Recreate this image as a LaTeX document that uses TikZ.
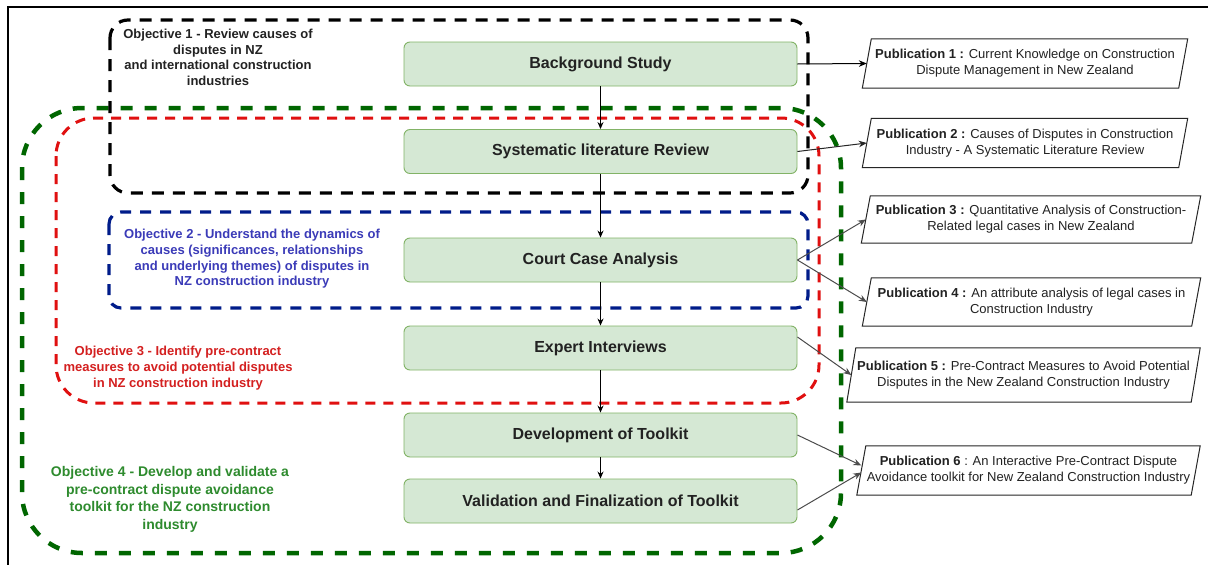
\documentclass[tikz,border=0pt]{standalone}
\usepackage{fontspec}
\setmainfont{Liberation Sans}
\usetikzlibrary{arrows.meta}
\definecolor{boxfill}{HTML}{D5E8D4}
\definecolor{boxline}{HTML}{82B366}
\definecolor{objgreen}{HTML}{006600}
\definecolor{objred}{HTML}{E01010}
\definecolor{objblue}{HTML}{001C8A}
\definecolor{txtblue}{HTML}{3B3BB8}
\definecolor{txtred}{HTML}{D42020}
\definecolor{txtgreen}{HTML}{2E8B2E}
\definecolor{txtdark}{HTML}{222222}
\begin{document}
\begin{tikzpicture}[x=1pt,y=-1pt,
  stepbox/.style={draw=boxline, fill=boxfill, rounded corners=6pt, minimum width=393pt, minimum height=44pt, line width=0.9pt, font=\fontsize{16}{19}\bfseries\selectfont, text=txtdark, inner sep=0pt},
  pubnode/.style={minimum height=49pt, inner sep=0pt, align=center, font=\fontsize{13}{16}\selectfont, text=txtdark},
  objtext/.style={align=center, font=\fontsize{13}{15.7}\bfseries\selectfont, inner sep=0pt},
  flow/.style={-{Stealth[length=7pt,width=6pt]}, line width=0.9pt, draw=black},
  link/.style={-{Stealth[length=8pt,width=6.5pt]}, line width=1pt, draw=black!70},
]
\useasboundingbox (0,0) rectangle (1208,565);
\fill[white] (0,0) rectangle (1208,565);
% frame
\draw[line width=1.8pt] (8,566) -- (8,7) -- (1209,7);

% objective regions
\draw[objgreen, line width=4.5pt, dash pattern=on 12pt off 12pt, rounded corners=60pt] (22,108) rectangle (841,553);
\draw[objred, line width=3pt, dash pattern=on 10pt off 8pt, rounded corners=38pt] (56,118) rectangle (819,403);
\draw[black, line width=3.2pt, dash pattern=on 12pt off 9pt, rounded corners=18pt] (110,20) rectangle (808,193);
\draw[objblue, line width=3.2pt, dash pattern=on 11pt off 9pt, rounded corners=12pt] (109,212) rectangle (808,308);

% objective texts
\node[objtext, text=txtdark] (o1) at (218,57.5) {Objective 1 - Review causes of\\disputes in NZ\\and international construction\\industries};
\node[objtext, text=txtblue] (o2) at (252,259) {Objective 2 - Understand the dynamics of\\causes (significances, relationships\\and underlying themes) of disputes in\\NZ construction industry};
\node[objtext, text=txtred] (o3) at (178,368) {Objective 3 - Identify pre-contract\\measures to avoid potential disputes\\in NZ construction industry};
\node[objtext, text=txtgreen, font=\fontsize{14}{17.5}\bfseries\selectfont] (o4) at (170,499.5) {Objective 4 - Develop and validate a\\pre-contract dispute avoidance\\toolkit for the NZ construction\\industry};

% steps
\node[stepbox] (bg) at (600.5,64) {Background Study};
\node[stepbox] (slr) at (600.5,151.5) {Systematic literature Review};
\node[stepbox] (cca) at (600.5,260) {Court Case Analysis};
\node[stepbox] (exp) at (600.5,348) {Expert Interviews};
\node[stepbox] (dev) at (600.5,435) {Development of Toolkit};
\node[stepbox] (val) at (600.5,501) {Validation and Finalization of Toolkit};

% publications
\node[pubnode, minimum width=316pt] (p1) at (1025,63.5) {\textbf{Publication 1 :} Current Knowledge on Construction\\Dispute Management in New Zealand};
\node[pubnode, minimum width=316pt] (p2) at (1025,143) {\textbf{Publication 2 :} Causes of Disputes in Construction\\Industry - A Systematic Literature Review};
\node[pubnode, minimum width=330pt, minimum height=47pt] (p3) at (1031,219.5) {\textbf{Publication 3 :} Quantitative Analysis of Construction-\\Related legal cases in New Zealand};
\node[pubnode, minimum width=329pt, minimum height=48pt] (p4) at (1031.5,302) {\textbf{Publication 4 :} An attribute analysis of legal cases in\\Construction Industry};
\node[pubnode, minimum width=344pt, minimum height=54pt] (p5) at (1023.5,375) {\textbf{Publication 5 :} Pre-Contract Measures to Avoid Potential\\Disputes in the New Zealand Construction Industry};
\node[pubnode, minimum width=334pt, minimum height=49pt] (p6) at (1028.5,470.5) {\textbf{Publication 6} : An Interactive Pre-Contract Dispute\\Avoidance toolkit for New Zealand Construction Industry};
\foreach \p in {p1,p2,p3,p4,p5,p6}
  \draw[line width=1pt, draw=black!85] ([xshift=4.5pt]\p.north west) -- ([xshift=4.5pt]\p.north east) -- ([xshift=-4.5pt]\p.south east) -- ([xshift=-4.5pt]\p.south west) -- cycle;

% flow arrows
\draw[flow] (bg.south) -- (slr.north);
\draw[flow] (slr.south) -- (cca.north);
\draw[flow] (cca.south) -- (exp.north);
\draw[flow] (exp.south) -- (dev.north);
\draw[flow] (dev.south) -- (val.north);

% links to publications
\draw[link, draw=black] (bg.east) -- (p1.west);
\draw[link, draw=black!85] (slr.east) -- (p2.west);
\draw[link] (cca.east) -- (p3.west);
\draw[link] (cca.east) -- (p4.west);
\draw[link] ([yshift=11pt]exp.east) -- (p5.west);
\draw[link] (dev.east) -- ([yshift=5pt]p6.west);
\draw[link] ([yshift=-9pt]val.east) -- ([yshift=-2pt]p6.west);
\end{tikzpicture}
\end{document}
